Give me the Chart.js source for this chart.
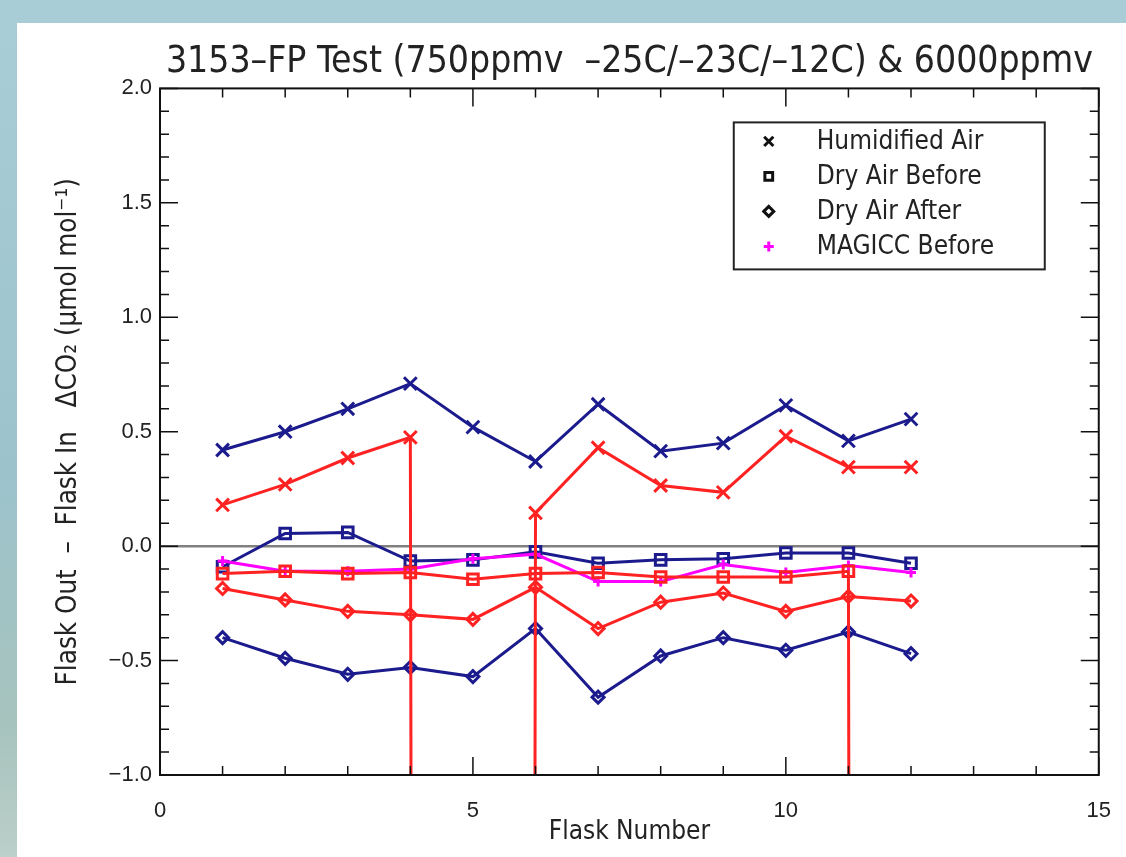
<!DOCTYPE html>
<html>
<head>
<meta charset="utf-8">
<script src="https://cdn.jsdelivr.net/npm/chart.js@4.4.1/dist/chart.umd.min.js"></script>
<style>
  html, body { margin: 0; padding: 0; }
  body {
    width: 1126px; height: 857px; overflow: hidden; position: relative;
    background: linear-gradient(180deg, #a9cdd7 0%, #9cc3cc 55%, #a7c3bd 85%, #bccfca 100%);
  }
  #panel {
    position: absolute; left: 17px; top: 23px; width: 1109px; height: 834px; background: #fff;
  }
</style>
</head>
<body>
<div id="panel"><canvas id="flask-chart" width="1109" height="834"></canvas></div>
<script>
// flask numbers and measured differences (µmol/mol); -999 marks a missing flask
const MISSING = -999;
const flasks = [1, 2, 3, 4, 5, 6, 7, 8, 9, 10, 11, 12];

const humidBlue = [0.42, 0.50, 0.60, 0.71, 0.52, 0.37, 0.62, 0.415, 0.45, 0.615, 0.46, 0.555];
const humidRed = [0.18, 0.27, 0.385, 0.475, MISSING, 0.145, 0.43, 0.265, 0.235, 0.48, 0.345, 0.345];
const dryBeforeBlue = [-0.09, 0.055, 0.06, -0.065, -0.06, -0.025, -0.075, -0.06, -0.055, -0.03, -0.03, -0.075];
const dryBeforeRed = [-0.12, -0.11, -0.12, -0.115, -0.145, -0.12, -0.115, -0.135, -0.135, -0.135, -0.11, MISSING];
const dryAfterBlue = [-0.40, -0.49, -0.56, -0.53, -0.57, -0.36, -0.66, -0.48, -0.40, -0.455, -0.375, -0.47];
const dryAfterRed = [-0.185, -0.235, -0.285, -0.30, -0.32, -0.18, -0.36, -0.245, -0.205, -0.285, -0.22, -0.24];
const magiccBefore = [-0.065, -0.11, -0.11, -0.10, -0.055, -0.035, -0.155, -0.155, -0.08, -0.115, -0.085, -0.115];

const legendLabels = ['Humidified Air', 'Dry Air Before', 'Dry Air After', 'MAGICC Before'];
const legendStyles = ['crossRot', 'rect', 'rectRot', 'cross'];

const xTicks = [0, 5, 10, 15];
const yTicks = [-1.0, -0.5, 0.0, 0.5, 1.0, 1.5, 2.0];

const BLUE = '#1b1b8e';
const RED = '#ff2222';
const MAGENTA = '#ff00ff';
const LABEL_FONT = '"DejaVu Sans Condensed", "DejaVu Sans", sans-serif';
const TICK_FONT = '"Liberation Sans", Arial, sans-serif';

const markerSize = { crossRot: 9, rect: 7.5, rectRot: 6, cross: 5 };

function series(values, color, style) {
  return {
    data: flasks.map((f, i) => ({ x: f, y: values[i] })),
    borderColor: color,
    borderWidth: 3,
    pointStyle: style,
    pointRadius: markerSize[style],
    pointBorderColor: color,
    pointBackgroundColor: 'transparent',
    pointBorderWidth: 3,
    tension: 0,
  };
}

// inward ticks on all four sides, plus the plot frame
const frameTicks = {
  id: 'frameTicks',
  afterDatasetsDraw(chart) {
    const { ctx, chartArea: a, scales: { x, y } } = chart;
    ctx.save();
    ctx.strokeStyle = '#111';
    ctx.lineWidth = 1.5;
    ctx.beginPath();
    for (let v = 0; v <= 15; v += 1) {
      const px = x.getPixelForValue(v);
      const len = v % 5 === 0 ? 18 : 9;
      ctx.moveTo(px, a.bottom); ctx.lineTo(px, a.bottom - len);
      ctx.moveTo(px, a.top); ctx.lineTo(px, a.top + len);
    }
    for (let k = -10; k <= 20; k += 1) {
      const py = y.getPixelForValue(k / 10);
      const len = k % 5 === 0 ? 18 : 9;
      ctx.moveTo(a.left, py); ctx.lineTo(a.left + len, py);
      ctx.moveTo(a.right, py); ctx.lineTo(a.right - len, py);
    }
    ctx.stroke();
    ctx.lineWidth = 2;
    ctx.strokeRect(a.left, a.top, a.right - a.left, a.bottom - a.top);
    ctx.restore();
  },
};

const boxLegend = {
  id: 'boxLegend',
  afterDraw(chart) {
    const { ctx, chartArea: a } = chart;
    const w = 311, h = 147;
    const left = a.right - 54 - w, top = a.top + 34;
    ctx.save();
    ctx.fillStyle = '#fff';
    ctx.fillRect(left, top, w, h);
    ctx.strokeStyle = '#222';
    ctx.lineWidth = 2;
    ctx.strokeRect(left, top, w, h);
    ctx.font = '26px ' + LABEL_FONT;
    ctx.textBaseline = 'middle';
    legendLabels.forEach((label, i) => {
      const cy = top + 19 + i * 35;
      const color = i === 3 ? MAGENTA : '#111';
      ctx.strokeStyle = color;
      ctx.fillStyle = 'transparent';
      ctx.lineWidth = 3;
      Chart.helpers.drawPoint(ctx, {
        pointStyle: legendStyles[i],
        radius: legendStyles[i] === 'crossRot' ? 6.5 : legendStyles[i] === 'rect' ? 5.5 : 5,
        borderWidth: 3,
        rotation: 0,
      }, left + 35, cy);
      ctx.fillStyle = '#222';
      ctx.fillText(label, left + 83, cy + 1);
    });
    ctx.restore();
  },
};

new Chart(document.getElementById('flask-chart'), {
  type: 'line',
  data: {
    datasets: [
      series(humidRed, RED, 'crossRot'),
      series(dryBeforeRed, RED, 'rect'),
      series(dryAfterRed, RED, 'rectRot'),
      series(magiccBefore, MAGENTA, 'cross'),
      series(humidBlue, BLUE, 'crossRot'),
      series(dryBeforeBlue, BLUE, 'rect'),
      series(dryAfterBlue, BLUE, 'rectRot'),
    ],
  },
  options: {
    responsive: false,
    animation: false,
    layout: { padding: { left: 0, right: 26, top: 0, bottom: 0 } },
    plugins: {
      legend: { display: false },
      tooltip: { enabled: false },
      title: {
        display: true,
        fullSize: false,
        text: '3153–FP Test (750ppmv  –25C/–23C/–12C) & 6000ppmv',
        color: '#222',
        font: { family: LABEL_FONT, size: 37, weight: 'normal' },
        padding: { top: 17, bottom: 4 },
      },
    },
    scales: {
      x: {
        type: 'linear',
        min: 0,
        max: 15,
        afterBuildTicks: (s) => { s.ticks = xTicks.map((v) => ({ value: v })); },
        afterFit: (s) => { s.height = 82; },
        grid: { display: false },
        border: { display: false },
        ticks: {
          color: '#222',
          padding: 15,
          maxRotation: 0,
          font: { family: TICK_FONT, size: 22 },
        },
        title: {
          display: true,
          text: 'Flask Number',
          color: '#222',
          font: { family: LABEL_FONT, size: 26 },
          padding: { top: 9, bottom: 9 },
        },
      },
      y: {
        type: 'linear',
        min: -1,
        max: 2,
        afterBuildTicks: (s) => { s.ticks = yTicks.map((v) => ({ value: v })); },
        afterFit: (s) => { s.width = 143; },
        grid: {
          drawTicks: false,
          lineWidth: 2.5,
          color: (c) => (c.tick && c.tick.value === 0 ? '#808080' : 'transparent'),
        },
        border: { display: false },
        ticks: {
          color: '#222',
          padding: 8,
          font: { family: TICK_FONT, size: 22 },
          callback: (v) => v.toFixed(1).replace('-', '−'),
        },
        title: {
          display: true,
          text: 'Flask Out  –  Flask In   ΔCO₂ (µmol mol⁻¹)',
          color: '#222',
          font: { family: LABEL_FONT, size: 27.5 },
          padding: { top: 35, bottom: 35 },
        },
      },
    },
  },
  plugins: [frameTicks, boxLegend],
});
</script>
</body>
</html>
